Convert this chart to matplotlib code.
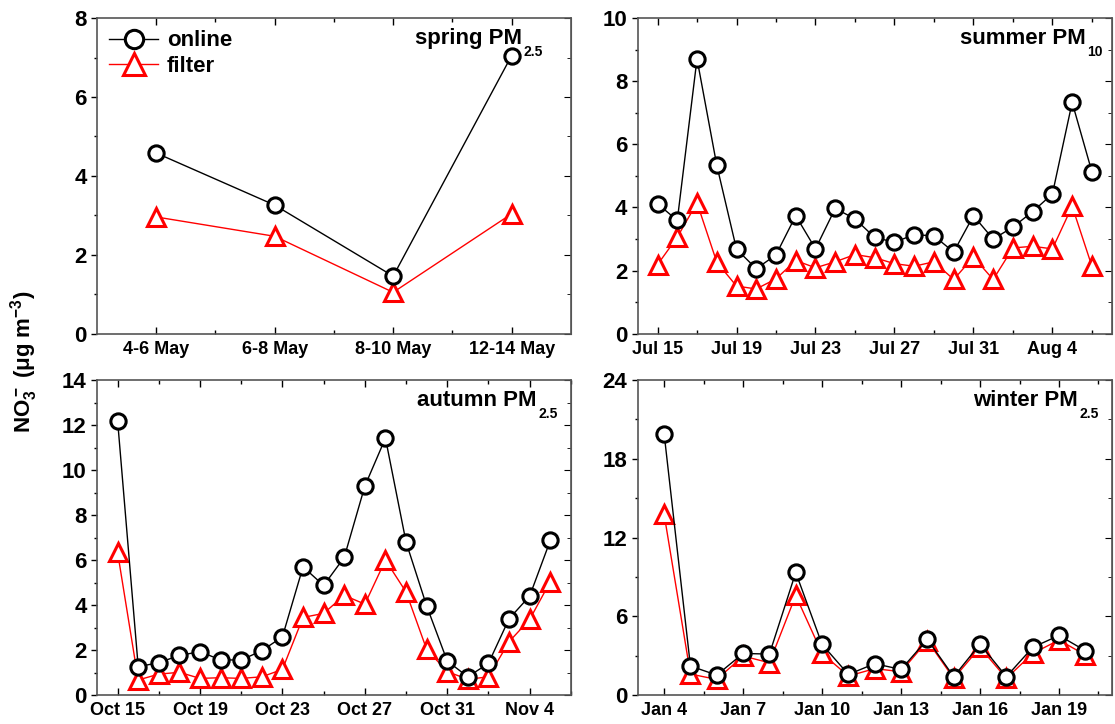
import numpy as np
import matplotlib.pyplot as plt
from matplotlib.ticker import MultipleLocator

plt.rcParams['font.family'] = ['Liberation Sans', 'DejaVu Sans']
plt.rcParams['font.weight'] = 'bold'
plt.rcParams['mathtext.fontset'] = 'custom'
plt.rcParams['mathtext.rm'] = 'Liberation Sans:bold'
plt.rcParams['mathtext.bf'] = 'Liberation Sans:bold'
plt.rcParams['mathtext.it'] = 'Liberation Sans:bold'
plt.rcParams['mathtext.default'] = 'bf'

# spring PM2.5 (4 sampling periods)
spring_labels = ['4-6 May', '6-8 May', '8-10 May', '12-14 May']
spring_online = [4.58, 3.26, 1.46, 7.05]
spring_filter = [2.96, 2.47, 1.05, 3.04]

# summer PM10, daily from Jul 15
summer_online = [4.12, 3.59, 8.71, 5.34, 2.68, 2.06, 2.50, 3.74, 2.69, 3.97, 3.64, 3.05,
                 2.90, 3.14, 3.10, 2.59, 3.74, 3.00, 3.38, 3.87, 4.43, 7.33, 5.13]
summer_filter = [2.19, 3.06, 4.15, 2.27, 1.51, 1.42, 1.74, 2.32, 2.09, 2.28, 2.51, 2.41,
                 2.22, 2.14, 2.28, 1.72, 2.43, 1.72, 2.72, 2.77, 2.69, 4.04, 2.14]
summer_ticks = ['Jul 15', 'Jul 19', 'Jul 23', 'Jul 27', 'Jul 31', 'Aug 4']

# autumn PM2.5, daily from Oct 15
autumn_online = [12.19, 1.26, 1.44, 1.76, 1.93, 1.56, 1.56, 1.97, 2.59, 5.70, 4.87, 6.12,
                 9.29, 11.42, 6.80, 3.96, 1.51, 0.81, 1.41, 3.39, 4.40, 6.87]
autumn_filter = [6.34, 0.67, 0.93, 1.01, 0.74, 0.77, 0.74, 0.81, 1.14, 3.45, 3.63, 4.43,
                 4.04, 6.00, 4.58, 2.03, 1.04, 0.70, 0.81, 2.37, 3.36, 5.04]
autumn_ticks = ['Oct 15', 'Oct 19', 'Oct 23', 'Oct 27', 'Oct 31', 'Nov 4']

# winter PM2.5, daily from Jan 4
winter_online = [19.92, 2.21, 1.52, 3.17, 3.12, 9.34, 3.86, 1.57, 2.39, 1.95, 4.24, 1.40,
                 3.88, 1.40, 3.63, 4.54, 3.38]
winter_filter = [13.78, 1.60, 1.19, 2.97, 2.46, 7.59, 3.17, 1.45, 2.01, 1.78, 4.14, 1.27,
                 3.63, 1.27, 3.17, 4.19, 3.05]
winter_ticks = ['Jan 4', 'Jan 7', 'Jan 10', 'Jan 13', 'Jan 16', 'Jan 19']


def draw(ax, x, online, filt):
    ax.plot(x, online, color='black', lw=1, marker='o', ms=11, mfc='white',
            mec='black', mew=2.2, label='online', zorder=3)
    ax.plot(x, filt, color='red', lw=1, marker='^', ms=13, mfc='white',
            mec='red', mew=2.2, label='filter', zorder=2)


def style(ax, ymax, ystep, name, sub, tx=0.972):
    ax.set_ylim(0, ymax)
    ax.yaxis.set_major_locator(MultipleLocator(ystep))
    ax.yaxis.set_minor_locator(MultipleLocator(ystep / 2))
    ax.tick_params(axis='y', which='both', direction='out', left=True, right=False,
                   labelsize=16)
    ax.tick_params(axis='y', which='major', length=4, width=1)
    ax.tick_params(axis='y', which='minor', length=2, width=1)
    ax.tick_params(axis='x', which='both', direction='in', top=True, labelsize=13,
                   pad=5)
    ax.tick_params(axis='x', which='major', length=5, width=1)
    ax.tick_params(axis='x', which='minor', length=3, width=1)
    for s in ax.spines.values():
        s.set_color('#555555')
        s.set_linewidth(1.2)
    # inward mirror ticks on the right side
    sec = ax.secondary_yaxis('right')
    sec.yaxis.set_major_locator(MultipleLocator(ystep))
    sec.yaxis.set_minor_locator(MultipleLocator(ystep / 2))
    sec.tick_params(which='both', direction='in', labelright=False)
    sec.tick_params(which='major', length=5)
    sec.tick_params(which='minor', length=3)
    sec.spines['right'].set_color('#555555')
    # panel title with a small, low subscript
    st = ax.text(tx, 0.88, sub, transform=ax.transAxes, ha='right',
                 va='baseline', fontsize=10, fontweight='bold')
    ax.annotate(name, xy=(0, 0), xycoords=st, xytext=(-1, 7),
                textcoords='offset points', ha='right', va='bottom',
                fontsize=16, fontweight='bold')


fig = plt.figure(figsize=(11.15, 7.24), dpi=100)
ax1 = fig.add_axes([0.087, 0.539, 0.425, 0.436])
ax2 = fig.add_axes([0.572, 0.539, 0.425, 0.436])
ax3 = fig.add_axes([0.087, 0.040, 0.425, 0.435])
ax4 = fig.add_axes([0.572, 0.040, 0.425, 0.435])

# spring
xs = np.arange(len(spring_labels))
draw(ax1, xs, spring_online, spring_filter)
ax1.set_xlim(-0.5, 3.5)
ax1.set_xticks(xs)
ax1.set_xticklabels(spring_labels)
ax1.set_xticks(xs[:-1] + 0.5, minor=True)
style(ax1, 8, 2, 'spring PM', '2.5', tx=0.94)
leg = ax1.legend(loc='upper left', frameon=False, fontsize=16, handlelength=2.2,
                 handletextpad=0.4, borderaxespad=0.15, labelspacing=0.2,
                 markerscale=1.2)

# summer
xs = np.arange(len(summer_online))
draw(ax2, xs, summer_online, summer_filter)
ax2.set_xlim(-1, len(summer_online))
ax2.set_xticks(np.arange(0, len(summer_online), 4))
ax2.set_xticklabels(summer_ticks)
ax2.set_xticks(np.arange(2, len(summer_online) + 1, 4), minor=True)
style(ax2, 10, 2, 'summer PM', '10', tx=0.98)

# autumn
xs = np.arange(len(autumn_online))
draw(ax3, xs, autumn_online, autumn_filter)
ax3.set_xlim(-1, len(autumn_online))
ax3.set_xticks(np.arange(0, len(autumn_online), 4))
ax3.set_xticklabels(autumn_ticks)
ax3.set_xticks(np.arange(2, len(autumn_online) + 1, 4), minor=True)
style(ax3, 14, 2, 'autumn PM', '2.5')

# winter
xs = np.arange(len(winter_online))
draw(ax4, xs, winter_online, winter_filter)
ax4.set_xlim(-1, len(winter_online))
ax4.set_xticks(np.arange(0, len(winter_online), 3))
ax4.set_xticklabels(winter_ticks)
ax4.set_xticks(np.arange(1.5, len(winter_online), 3), minor=True)
style(ax4, 24, 6, 'winter PM', '2.5')

fig.text(0.022, 0.5, r'NO$_3^-$ (μg m$^{-3}$)', rotation=90, ha='center',
         va='center', fontsize=16, fontweight='bold')

fig.savefig('out.png', dpi=100)
